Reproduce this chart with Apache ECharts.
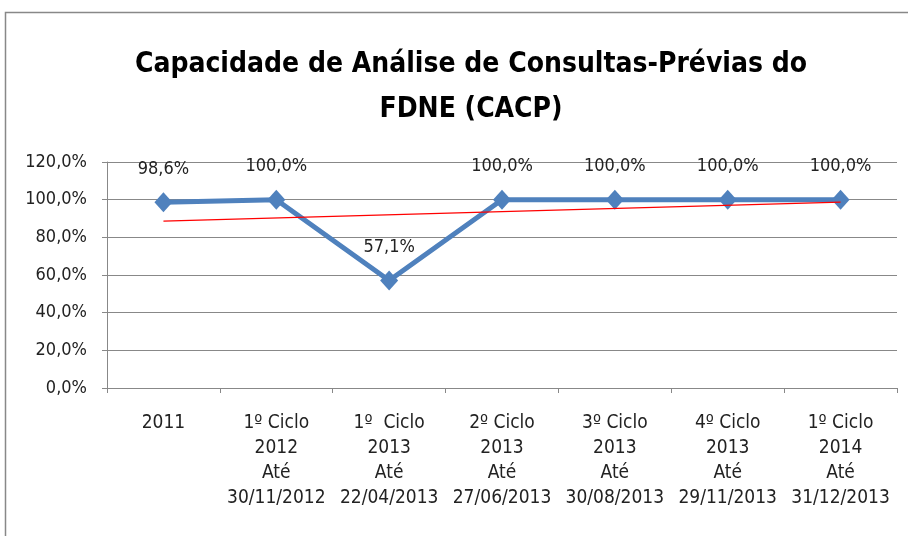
<!DOCTYPE html>
<html><head><meta charset="utf-8">
<script src="https://cdn.jsdelivr.net/npm/echarts@6/dist/echarts.min.js"></script>
<style>html,body{margin:0;padding:0;background:#fff}#c{width:908px;height:536px}</style>
</head><body><div id="c"></div>
<script>
const categories = ['2011','1º Ciclo\n2012\nAté\n30/11/2012','1º  Ciclo\n2013\nAté\n22/04/2013','2º Ciclo\n2013\nAté\n27/06/2013','3º Ciclo\n2013\nAté\n30/08/2013','4º Ciclo\n2013\nAté\n29/11/2013','1º Ciclo\n2014\nAté\n31/12/2013'];
const cacp = [98.6, 100.0, 57.1, 100.0, 100.0, 100.0, 100.0];
const trend = [88.6, null, null, null, null, null, 98.7];
const yTicks = {min: 0, max: 120, interval: 20};
const FONT = '"DejaVu Sans Condensed","Liberation Sans Narrow",sans-serif';
const fmt = v => v.toFixed(1).replace('.', ',') + '%';
const chart = echarts.init(document.getElementById('c'));
chart.setOption({
  animation: false,
  backgroundColor: '#fff',
  title: {
    text: 'Capacidade de Análise de Consultas-Prévias do\nFDNE (CACP)',
    left: 466, textAlign: 'center', top: 37,
    textStyle: {fontFamily: FONT, fontSize: 28, fontWeight: 'bold', color: '#000', lineHeight: 45}
  },
  graphic: [{type: 'polyline', shape: {points: [[5.5, 536], [5.5, 12.5], [908, 12.5]]}, style: {stroke: '#888', lineWidth: 1.5, fill: null}}],
  grid: {left: 107, right: 11, top: 162, bottom: 148},
  xAxis: {
    type: 'category', data: categories, boundaryGap: true,
    axisLine: {lineStyle: {color: '#888'}},
    axisTick: {show: true, length: 5, lineStyle: {color: '#888'}},
    axisLabel: {fontFamily: FONT, fontSize: 19, color: '#222', lineHeight: 25, margin: 23, interval: 0}
  },
  yAxis: {
    type: 'value', min: yTicks.min, max: yTicks.max, interval: yTicks.interval,
    axisLine: {show: true, lineStyle: {color: '#888'}},
    axisTick: {show: true, length: 5, inside: false, lineStyle: {color: '#888'}},
    splitLine: {lineStyle: {color: '#888'}},
    axisLabel: {fontFamily: FONT, fontSize: 18, color: '#222', margin: 20, formatter: v => fmt(v)}
  },
  series: [
    {type: 'line', data: trend, connectNulls: true, symbol: 'none', z: 3,
     lineStyle: {color: '#ff0000', width: 1.2}},
    {type: 'line', data: cacp, symbol: 'diamond', symbolSize: [18, 20], z: 2,
     lineStyle: {color: '#4F81BD', width: 5}, itemStyle: {color: '#4F81BD'},
     label: {show: true, position: 'top', distance: 14, fontFamily: FONT, fontSize: 18, color: '#222', formatter: p => fmt(p.value)}}
  ]
});
</script></body></html>
